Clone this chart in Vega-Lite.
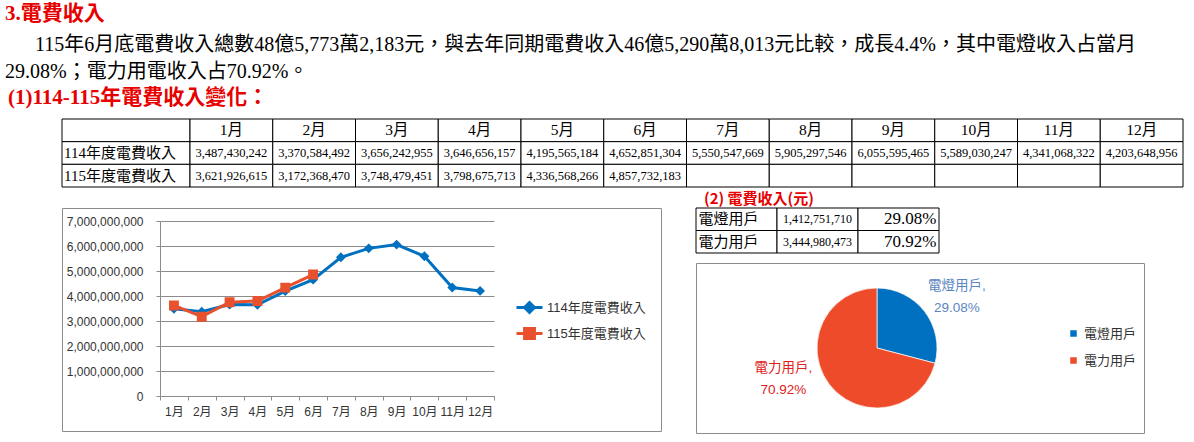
{
  "$schema": "https://vega.github.io/schema/vega-lite/v6.json",
  "background": "white",
  "padding": {"left": 5, "top": 2, "right": 5, "bottom": 5},
  "title": {
    "text": "3.電費收入",
    "subtitle": [
      "\u200b\u3000\u2002115年6月底電費收入總數48億5,773萬2,183元，與去年同期電費收入46億5,290萬8,013元比較，成長4.4%，其中電燈收入占當月",
      "29.08%；電力用電收入占70.92%。"
    ],
    "anchor": "start",
    "frame": "group",
    "dx": -57,
    "font": "Liberation Serif, Noto Sans CJK TC",
    "fontSize": 21,
    "fontWeight": "bold",
    "color": "#E60000",
    "subtitleFont": "Liberation Serif, Noto Sans CJK TC",
    "subtitleFontSize": 20,
    "subtitleColor": "#000000",
    "subtitleLineHeight": 27,
    "subtitlePadding": 11,
    "offset": 5
  },
  "datasets": {
    "revenue": [
      {"month": "1月", "series": "114年度電費收入", "value": 3487430242},
      {"month": "2月", "series": "114年度電費收入", "value": 3370584492},
      {"month": "3月", "series": "114年度電費收入", "value": 3656242955},
      {"month": "4月", "series": "114年度電費收入", "value": 3646656157},
      {"month": "5月", "series": "114年度電費收入", "value": 4195565184},
      {"month": "6月", "series": "114年度電費收入", "value": 4652851304},
      {"month": "7月", "series": "114年度電費收入", "value": 5550547669},
      {"month": "8月", "series": "114年度電費收入", "value": 5905297546},
      {"month": "9月", "series": "114年度電費收入", "value": 6055595465},
      {"month": "10月", "series": "114年度電費收入", "value": 5589030247},
      {"month": "11月", "series": "114年度電費收入", "value": 4341068322},
      {"month": "12月", "series": "114年度電費收入", "value": 4203648956},
      {"month": "1月", "series": "115年度電費收入", "value": 3621926615},
      {"month": "2月", "series": "115年度電費收入", "value": 3172368470},
      {"month": "3月", "series": "115年度電費收入", "value": 3748479451},
      {"month": "4月", "series": "115年度電費收入", "value": 3798675713},
      {"month": "5月", "series": "115年度電費收入", "value": 4336568266},
      {"month": "6月", "series": "115年度電費收入", "value": 4857732183}
    ],
    "rowLabels": [
      {"row": "hdr", "text": ""},
      {"row": "114", "text": "114年度電費收入"},
      {"row": "115", "text": "115年度電費收入"}
    ],
    "tableCells": [
      {"col": "1月", "row": "hdr", "text": "1月"},
      {"col": "1月", "row": "114", "text": "3,487,430,242"},
      {"col": "1月", "row": "115", "text": "3,621,926,615"},
      {"col": "2月", "row": "hdr", "text": "2月"},
      {"col": "2月", "row": "114", "text": "3,370,584,492"},
      {"col": "2月", "row": "115", "text": "3,172,368,470"},
      {"col": "3月", "row": "hdr", "text": "3月"},
      {"col": "3月", "row": "114", "text": "3,656,242,955"},
      {"col": "3月", "row": "115", "text": "3,748,479,451"},
      {"col": "4月", "row": "hdr", "text": "4月"},
      {"col": "4月", "row": "114", "text": "3,646,656,157"},
      {"col": "4月", "row": "115", "text": "3,798,675,713"},
      {"col": "5月", "row": "hdr", "text": "5月"},
      {"col": "5月", "row": "114", "text": "4,195,565,184"},
      {"col": "5月", "row": "115", "text": "4,336,568,266"},
      {"col": "6月", "row": "hdr", "text": "6月"},
      {"col": "6月", "row": "114", "text": "4,652,851,304"},
      {"col": "6月", "row": "115", "text": "4,857,732,183"},
      {"col": "7月", "row": "hdr", "text": "7月"},
      {"col": "7月", "row": "114", "text": "5,550,547,669"},
      {"col": "7月", "row": "115", "text": ""},
      {"col": "8月", "row": "hdr", "text": "8月"},
      {"col": "8月", "row": "114", "text": "5,905,297,546"},
      {"col": "8月", "row": "115", "text": ""},
      {"col": "9月", "row": "hdr", "text": "9月"},
      {"col": "9月", "row": "114", "text": "6,055,595,465"},
      {"col": "9月", "row": "115", "text": ""},
      {"col": "10月", "row": "hdr", "text": "10月"},
      {"col": "10月", "row": "114", "text": "5,589,030,247"},
      {"col": "10月", "row": "115", "text": ""},
      {"col": "11月", "row": "hdr", "text": "11月"},
      {"col": "11月", "row": "114", "text": "4,341,068,322"},
      {"col": "11月", "row": "115", "text": ""},
      {"col": "12月", "row": "hdr", "text": "12月"},
      {"col": "12月", "row": "114", "text": "4,203,648,956"},
      {"col": "12月", "row": "115", "text": ""}
    ],
    "share": [
      {"cat": "電燈用戶", "value": 1412751710, "pct": "29.08%", "label": "電燈用戶,\n29.08%"},
      {"cat": "電力用戶", "value": 3444980473, "pct": "70.92%", "label": "電力用戶,\n70.92%"}
    ]
  },
  "spacing": 3,
  "vconcat": [
    {
      "title": {
        "text": "(1)114-115年電費收入變化：",
        "anchor": "start",
        "frame": "group",
        "dx": -54,
        "font": "Liberation Serif, Noto Sans CJK TC",
        "fontSize": 21,
        "fontWeight": "bold",
        "color": "#E60000",
        "offset": 11
      },
      "bounds": "flush",
      "spacing": 0,
      "hconcat": [
        {
          "width": 128,
          "height": 68,
          "data": {"name": "rowLabels"},
          "encoding": {
            "y": {"field": "row", "type": "nominal", "sort": ["hdr", "114", "115"], "scale": {"paddingInner": 0, "paddingOuter": 0}, "axis": null}
          },
          "layer": [
            {"mark": {"type": "rect", "fill": "white", "stroke": "black", "strokeWidth": 1}},
            {
              "mark": {"type": "text", "align": "left", "dx": -62, "fontSize": 15, "font": "Liberation Serif, Noto Sans CJK TC", "color": "black"},
              "encoding": {"text": {"field": "text"}}
            }
          ]
        },
        {
          "width": 993,
          "height": 68,
          "data": {"name": "tableCells"},
          "encoding": {
            "x": {"field": "col", "type": "nominal", "sort": ["1月", "2月", "3月", "4月", "5月", "6月", "7月", "8月", "9月", "10月", "11月", "12月"], "scale": {"paddingInner": 0, "paddingOuter": 0}, "axis": null},
            "y": {"field": "row", "type": "nominal", "sort": ["hdr", "114", "115"], "scale": {"paddingInner": 0, "paddingOuter": 0}, "axis": null}
          },
          "layer": [
            {"mark": {"type": "rect", "fill": "white", "stroke": "black", "strokeWidth": 1}},
            {
              "mark": {"type": "text", "font": "Liberation Serif, Noto Sans CJK TC", "color": "black"},
              "encoding": {
                "text": {"field": "text"},
                "size": {"condition": {"test": "datum.row === 'hdr'", "value": 15.5}, "value": 12.5}
              }
            }
          ]
        }
      ]
    },
    {
      "spacing": 33,
      "resolve": {
        "scale": {"color": "independent", "shape": "independent", "stroke": "independent"},
        "legend": {"color": "independent", "shape": "independent", "stroke": "independent"}
      },
      "hconcat": [
        {
          "width": 599,
          "height": 223,
          "title": {"text": " ", "fontSize": 15, "offset": 1},
          "view": {"stroke": "#8c8c8c"},
          "data": {"name": "revenue"},
          "encoding": {
            "x": {
              "field": "month", "type": "nominal", "title": null,
              "sort": ["1月", "2月", "3月", "4月", "5月", "6月", "7月", "8月", "9月", "10月", "11月", "12月"],
              "scale": {"type": "band", "range": [98, 432], "paddingInner": 0, "paddingOuter": 0},
              "axis": {"orient": "bottom", "offset": -35, "tickBand": "extent", "labelAngle": 0, "tickSize": 4, "labelPadding": 6, "domainColor": "#8c8c8c", "tickColor": "#8c8c8c", "grid": false}
            },
            "y": {
              "field": "value", "type": "quantitative", "title": null,
              "scale": {"domain": [0, 7000000000], "range": [188, 13], "nice": false},
              "axis": {"offset": -98, "tickCount": 7, "format": ",d", "tickSize": 4, "labelPadding": 13, "gridColor": "#8c8c8c", "domainColor": "#8c8c8c", "tickColor": "#8c8c8c"}
            },
            "color": {
              "field": "series", "type": "nominal", "title": null,
              "scale": {"domain": ["114年度電費收入", "115年度電費收入"], "range": ["#0070C0", "#E9502E"]},
              "legend": {"orient": "none", "legendX": 453, "legendY": 85, "symbolSize": 676, "labelFontSize": 13, "labelOffset": 3, "rowPadding": 0, "encode": {"symbols": {"update": {"strokeWidth": {"value": 3}}}}}
            }
          },
          "layer": [
            {"mark": {"type": "line", "strokeWidth": 3}},
            {
              "mark": {"type": "point", "filled": true, "size": 676, "strokeWidth": 0, "opacity": 1},
              "encoding": {
                "shape": {
                  "field": "series", "type": "nominal", "title": null,
                  "scale": {"domain": ["114年度電費收入", "115年度電費收入"], "range": ["M-1,0H1M0,-0.38L0.38,0L0,0.38L-0.38,0Z", "M-1,0H1M-0.38,-0.38H0.38V0.38H-0.38Z"]},
                  "legend": {"orient": "none", "legendX": 453, "legendY": 85, "symbolSize": 676, "labelFontSize": 13, "labelOffset": 3, "rowPadding": 0, "encode": {"symbols": {"update": {"strokeWidth": {"value": 3}}}}}
                },
                "stroke": {
                  "field": "series", "type": "nominal", "title": null,
                  "scale": {"domain": ["114年度電費收入", "115年度電費收入"], "range": ["#0070C0", "#E9502E"]},
                  "legend": {"orient": "none", "legendX": 453, "legendY": 85, "symbolSize": 676, "labelFontSize": 13, "labelOffset": 3, "rowPadding": 0, "encode": {"symbols": {"update": {"strokeWidth": {"value": 3}}}}}
                }
              }
            }
          ]
        },
        {
          "spacing": 10,
          "bounds": "flush",
          "resolve": {
            "scale": {"color": "independent"},
            "legend": {"color": "independent"}
          },
          "vconcat": [
            {
              "width": 243,
              "height": 45,
              "title": {"text": "(2) 電費收入(元)", "anchor": "start", "frame": "group", "dx": 8, "fontSize": 15, "fontWeight": "bold", "color": "#E60000", "font": "Noto Sans CJK TC", "offset": 1},
              "data": {"name": "share"},
              "encoding": {
                "y": {"field": "cat", "type": "nominal", "sort": ["電燈用戶", "電力用戶"], "scale": {"paddingInner": 0, "paddingOuter": 0}, "axis": null}
              },
              "layer": [
                {"mark": {"type": "rect", "fill": "white", "stroke": "black", "strokeWidth": 1}, "encoding": {"x": {"datum": "c1", "type": "nominal", "scale": {"domain": ["c1", "c2", "c3"], "paddingInner": 0, "paddingOuter": 0}, "axis": null}}},
                {"mark": {"type": "rect", "fill": "white", "stroke": "black", "strokeWidth": 1}, "encoding": {"x": {"datum": "c2", "type": "nominal"}}},
                {"mark": {"type": "rect", "fill": "white", "stroke": "black", "strokeWidth": 1}, "encoding": {"x": {"datum": "c3", "type": "nominal"}}},
                {"mark": {"type": "text", "align": "left", "dx": -38, "fontSize": 15, "font": "Liberation Serif, Noto Sans CJK TC", "color": "black"}, "encoding": {"x": {"datum": "c1", "type": "nominal"}, "text": {"field": "cat"}}},
                {"mark": {"type": "text", "fontSize": 12, "font": "Liberation Serif, Noto Sans CJK TC", "color": "black"}, "encoding": {"x": {"datum": "c2", "type": "nominal"}, "text": {"field": "value", "type": "quantitative", "format": ","}}},
                {"mark": {"type": "text", "align": "right", "dx": 38, "fontSize": 17, "font": "Liberation Serif, Noto Sans CJK TC", "color": "black"}, "encoding": {"x": {"datum": "c3", "type": "nominal"}, "text": {"field": "pct"}}}
              ]
            },
            {
              "width": 448,
              "height": 170,
              "view": {"stroke": "#8c8c8c"},
              "data": {"name": "share"},
              "encoding": {
                "theta": {"field": "value", "type": "quantitative", "stack": true},
                "order": {"field": "value", "type": "quantitative", "sort": "ascending"},
                "color": {
                  "field": "cat", "type": "nominal", "title": null,
                  "scale": {"domain": ["電燈用戶", "電力用戶"], "range": ["#0070C0", "#EE4B2B"]},
                  "legend": {"orient": "none", "legendX": 371, "legendY": 64, "symbolType": "square", "symbolSize": 64, "labelFontSize": 13, "labelOffset": 4, "rowPadding": 12}
                }
              },
              "layer": [
                {"mark": {"type": "arc", "outerRadius": 60, "xOffset": -43, "stroke": "white", "strokeWidth": 0.7}},
                {
                  "mark": {"type": "text", "radius": 92, "xOffset": -43, "dx": 7, "dy": -6, "lineBreak": "\n", "lineHeight": 22, "fontSize": 13.5},
                  "encoding": {
                    "text": {"condition": {"test": "datum.cat === '電燈用戶'", "field": "label"}, "value": ""},
                    "color": {"value": "#5B86C2"}
                  }
                },
                {
                  "mark": {"type": "text", "radius": 98, "xOffset": -43, "dx": -16, "dy": -40, "lineBreak": "\n", "lineHeight": 22, "fontSize": 13.5},
                  "encoding": {
                    "text": {"condition": {"test": "datum.cat === '電力用戶'", "field": "label"}, "value": ""},
                    "color": {"value": "#E0201B"}
                  }
                }
              ]
            }
          ]
        }
      ]
    }
  ],
  "config": {
    "view": {"stroke": null},
    "font": "Liberation Sans, Noto Sans CJK TC",
    "axis": {"labelFont": "Liberation Sans, Noto Sans CJK TC", "labelColor": "#333333", "labelFontSize": 12},
    "legend": {"labelFont": "Liberation Sans, Noto Sans CJK TC", "labelColor": "#333333"},
    "text": {"font": "Liberation Sans, Noto Sans CJK TC"}
  }
}
